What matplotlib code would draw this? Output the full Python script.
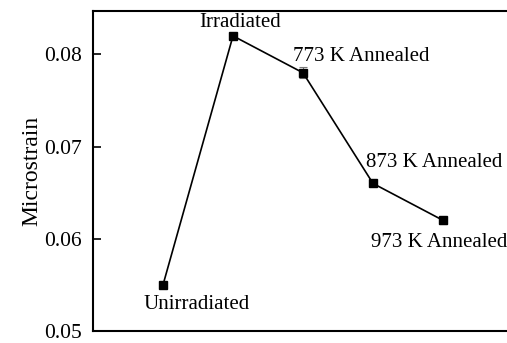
"""
Microstrain vs. sample condition (irradiation / annealing series).
"""

import matplotlib
matplotlib.use("Agg")
import matplotlib.pyplot as plt

# ── Data ──────────────────────────────────────────────────────────────────────
conditions = ["Unirradiated", "Irradiated", "773 K Annealed",
              "873 K Annealed", "973 K Annealed"]
positions = [1, 2, 3, 4, 5]
microstrain = [0.0550, 0.0820, 0.0780, 0.0660, 0.0620]
errors = [0.0003, 0.0003, 0.0006, 0.0003, 0.0004]

# label offsets in points (dx, dy) and alignment
label_style = [
    dict(xytext=(-14, -7), ha="left", va="top"),
    dict(xytext=(5, 3), ha="center", va="bottom"),
    dict(xytext=(-7, 5), ha="left", va="bottom"),
    dict(xytext=(-5, 8), ha="left", va="bottom"),
    dict(xytext=(-52, -9), ha="left", va="top"),
]

plt.rcParams.update({
    "font.family": ["Liberation Serif", "DejaVu Serif"],
    "font.size": 15,
})

fig = plt.figure(figsize=(5.07, 3.43), dpi=100)
ax = fig.add_axes([93 / 507, 12 / 343, 420 / 507, 320 / 343])

ax.errorbar(positions, microstrain, yerr=errors, color="black", lw=1.2,
            marker="s", ms=5.5, mfc="black", mec="black",
            ecolor="#777777", elinewidth=0.8, capsize=3, capthick=0.8,
            zorder=3)

for x, y, name, st in zip(positions, microstrain, conditions, label_style):
    ax.annotate(name, (x, y), textcoords="offset points", fontsize=15,
                **st)

ax.set_xlim(0, 6)
ax.set_ylim(0.05, 0.0847)
ax.set_yticks([0.05, 0.06, 0.07, 0.08])
ax.set_yticklabels(["0.05", "0.06", "0.07", "0.08"])
ax.set_xticks([])
ax.tick_params(axis="y", direction="in", length=6, width=1.2, pad=8,
               labelsize=15.5)
ax.set_ylabel("Microstrain", fontsize=17, labelpad=1)

for side in ["left", "top", "bottom"]:
    ax.spines[side].set_linewidth(1.5)
ax.spines["right"].set_visible(False)

fig.savefig("out.png", dpi=100, facecolor="white")
